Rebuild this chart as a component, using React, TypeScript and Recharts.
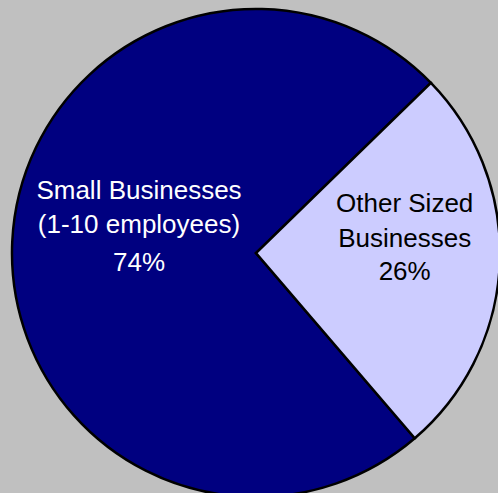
import React from 'react';
import {Cell, Pie, PieChart} from 'recharts';

const segments = ['Small Businesses', 'Other Sized Businesses'];
const shares = [74, 26];
const labelLines = [
    ['Small Businesses', '(1-10 employees)', '74%'],
    ['Other Sized', 'Businesses', '26%'],
];

const colors = ['#000080', '#ccccff'];
const textColors = ['#ffffff', '#000000'];
const labelRadius = [0.48, 0.61];
const lineOffsets = [[-49, -15, 23], [-48, -13, 20]];

const data = segments.map((name, i) => ({name, value: shares[i]}));

const RADIAN = Math.PI / 180;

const renderLabel = (props: any) => {
    const {cx, cy, midAngle, outerRadius, index} = props;
    const r = outerRadius * labelRadius[index];
    const x = cx + r * Math.cos(-midAngle * RADIAN);
    const y = cy + r * Math.sin(-midAngle * RADIAN);
    return (
        <text
            x={x}
            y={y}
            textAnchor="middle"
            fill={textColors[index]}
            fontFamily="'Liberation Sans', Arial, sans-serif"
            fontSize={26}
        >
            {labelLines[index].map((line, j) => (
                <tspan key={j} x={x} y={y + lineOffsets[index][j]}>{line}</tspan>
            ))}
        </text>
    );
};

const App = () => {
    return (
        <div style={{position: 'fixed', left: 0, top: 0, width: 498, height: 493, background: '#c0c0c0', overflow: 'hidden'}}>
            <PieChart width={498} height={493} margin={{top: 0, right: 0, bottom: 0, left: 0}}>
                <Pie
                    data={data}
                    dataKey="value"
                    nameKey="name"
                    cx={256}
                    cy={253}
                    outerRadius={244}
                    startAngle={44.2}
                    endAngle={404.2}
                    stroke="#000000"
                    strokeWidth={2.5}
                    label={renderLabel}
                    labelLine={false}
                    isAnimationActive={false}
                >
                    {data.map((entry, i) => (
                        <Cell key={entry.name} fill={colors[i]} />
                    ))}
                </Pie>
            </PieChart>
        </div>
    );
};

export default App;
